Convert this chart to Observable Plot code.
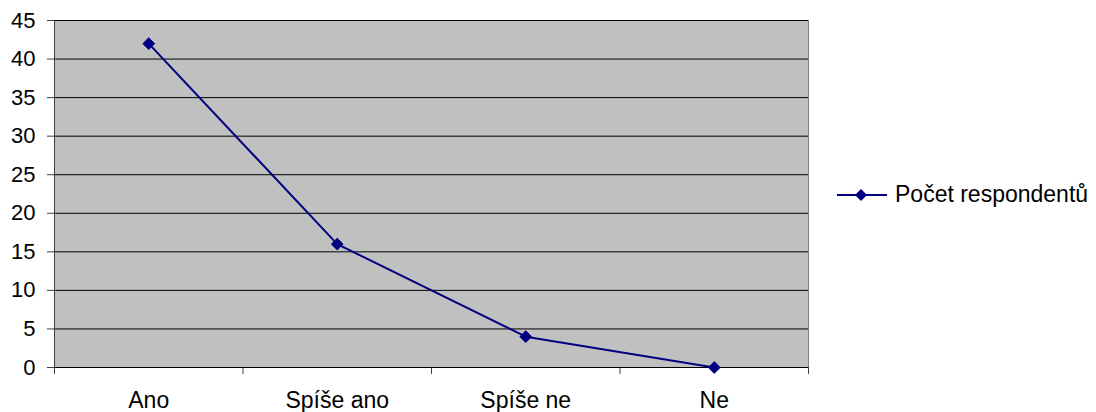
<!DOCTYPE html>
<html>
<head>
<meta charset="utf-8">
<script src="https://cdn.jsdelivr.net/npm/d3@7"></script>
<script src="https://cdn.jsdelivr.net/npm/@observablehq/plot@0.6"></script>
<style>
  html, body { margin: 0; padding: 0; background: #fff; }
  #wrap { position: relative; width: 1096px; height: 412px; font-family: "Liberation Sans", Arial, sans-serif; }
  #legend { position: absolute; left: 837px; top: 181px; display: flex; align-items: center; font-size: 23px; color: #000; white-space: nowrap; }
  #legend svg { margin-right: 8px; }
</style>
</head>
<body>
<div id="wrap"></div>
<script>
const categories = ["Ano", "Spíše ano", "Spíše ne", "Ne"];
const values = [42, 16, 4, 0];
const yTicks = [0, 5, 10, 15, 20, 25, 30, 35, 40, 45];
const seriesName = "Počet respondentů";

const data = categories.map((c, i) => ({ c, i: i + 0.5, v: values[i] }));
const boundaries = d3.range(categories.length + 1);

const chart = Plot.plot({
  width: 1096,
  height: 412,
  marginLeft: 54,
  marginRight: 288,
  marginTop: 20,
  marginBottom: 45,
  style: { fontFamily: "Liberation Sans, Arial, sans-serif", fontSize: "22px", background: "#fff", color: "#000" },
  x: { domain: [0, categories.length], axis: null },
  y: { domain: [0, 45], axis: null },
  marks: [
    Plot.frame({ fill: "#c0c0c0", stroke: "#808080" }),
    Plot.gridY(yTicks, { stroke: "#000", strokeOpacity: 1 }),
    Plot.ruleX([0], { stroke: "#404040" }),
    Plot.axisY(yTicks, { tickSize: 7, tickPadding: 12, stroke: "#404040", fill: "#000", fontSize: 22, label: null }),
    Plot.axisX(boundaries, { tickSize: 7, tickFormat: () => "", stroke: "#404040", label: null }),
    Plot.ruleY([0], { stroke: "#000" }),
    Plot.line(data, { x: "i", y: "v", stroke: "#000080", strokeWidth: 2 }),
    Plot.dot(data, { x: "i", y: "v", symbol: "diamond2", r: 5.3, fill: "#000080", stroke: "#000080", strokeWidth: 1 }),
    Plot.text(data, { x: "i", y: () => 0, text: "c", dy: 33, fontSize: 23, fill: "#000", textAnchor: "middle", lineAnchor: "middle" })
  ]
});
document.getElementById("wrap").appendChild(chart);

const legend = document.createElement("div");
legend.id = "legend";
legend.innerHTML = `<svg width="50" height="24"><line x1="0" y1="12" x2="50" y2="12" stroke="#000080" stroke-width="2"/><path d="M24,6 L30,12 L24,18 L18,12 Z" fill="#000080"/></svg><span>${seriesName}</span>`;
document.getElementById("wrap").appendChild(legend);
</script>
</body>
</html>
